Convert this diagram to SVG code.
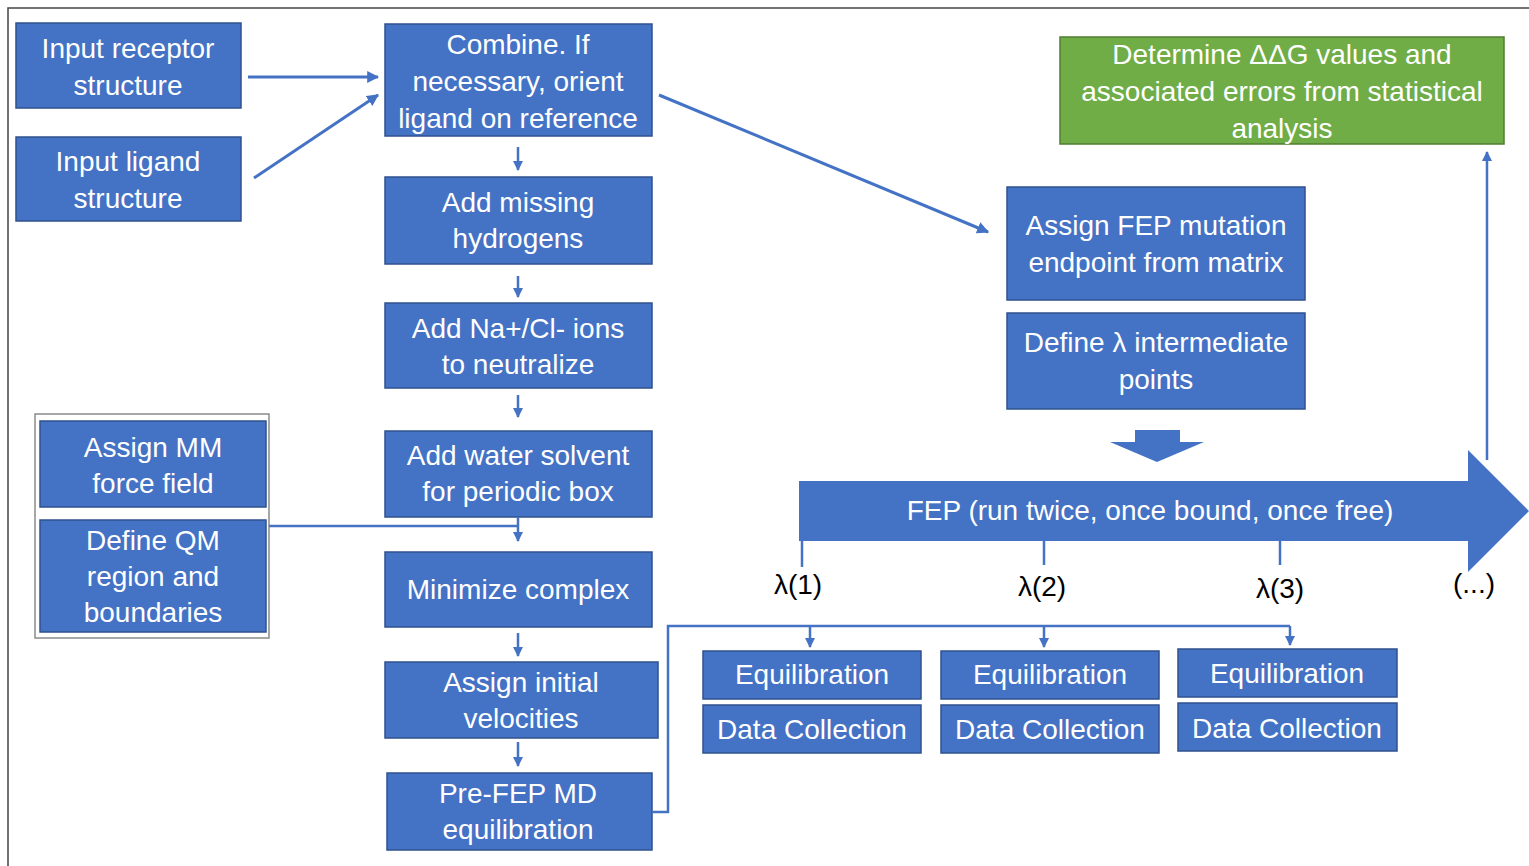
<svg xmlns="http://www.w3.org/2000/svg" width="1529" height="866" viewBox="0 0 1529 866">
<style>
.b{fill:#4472C4;stroke:#2F528F;stroke-width:1.5}
.g{fill:#70AD47;stroke:#507E32;stroke-width:1.5}
.t{font-family:"Liberation Sans",Arial,sans-serif;font-size:28px;fill:#fff;text-anchor:middle}
.k{font-family:"Liberation Sans",Arial,sans-serif;font-size:28px;fill:#000;text-anchor:middle}
.c{fill:none;stroke:#4472C4;stroke-width:3}
.cs{fill:none;stroke:#4472C4;stroke-width:2.5}
</style>
<defs>
<marker id="ah" viewBox="0 0 10 10" refX="9" refY="5" markerWidth="4" markerHeight="4" orient="auto" markerUnits="strokeWidth"><path d="M0,0 L10,5 L0,10 z" fill="#4472C4"/></marker>
</defs>
<rect width="1529" height="866" fill="#fff"/>
<rect x="8" y="8" width="1540" height="880" fill="none" stroke="#444" stroke-width="1.5"/>

<g id="n-receptor"><rect class="b" x="16" y="23" width="225" height="85"/><text class="t" x="128" y="58">Input receptor</text><text class="t" x="128" y="95">structure</text></g>
<g id="n-ligand"><rect class="b" x="16" y="137" width="225" height="84"/><text class="t" x="128" y="171">Input ligand</text><text class="t" x="128" y="208">structure</text></g>
<g id="n-combine"><rect class="b" x="385" y="24" width="267" height="112"/><text class="t" x="518" y="54">Combine. If</text><text class="t" x="518" y="91">necessary, orient</text><text class="t" x="518" y="128">ligand on reference</text></g>
<g id="n-hydrogens"><rect class="b" x="385" y="177" width="267" height="87"/><text class="t" x="518" y="212">Add missing</text><text class="t" x="518" y="248">hydrogens</text></g>
<g id="n-ions"><rect class="b" x="385" y="303" width="267" height="85"/><text class="t" x="518" y="338">Add Na+/Cl- ions</text><text class="t" x="518" y="374">to neutralize</text></g>
<g id="n-water"><rect class="b" x="385" y="431" width="267" height="86"/><text class="t" x="518" y="465">Add water solvent</text><text class="t" x="518" y="501">for periodic box</text></g>
<g id="n-minimize"><rect class="b" x="385" y="552" width="267" height="75"/><text class="t" x="518" y="599">Minimize complex</text></g>
<g id="n-velocities"><rect class="b" x="385" y="662" width="273" height="76"/><text class="t" x="521" y="692">Assign initial</text><text class="t" x="521" y="728">velocities</text></g>
<g id="n-prefep"><rect class="b" x="387" y="773" width="265" height="77"/><text class="t" x="518" y="803">Pre-FEP MD</text><text class="t" x="518" y="839">equilibration</text></g>

<g id="n-group"><rect x="35" y="414" width="234" height="224" fill="#fff" stroke="#8a8a8a" stroke-width="1.5"/>
<g id="n-mm"><rect class="b" x="40" y="421" width="226" height="86"/><text class="t" x="153" y="457">Assign MM</text><text class="t" x="153" y="493">force field</text></g>
<g id="n-qm"><rect class="b" x="40" y="520" width="226" height="112"/><text class="t" x="153" y="550">Define QM</text><text class="t" x="153" y="586">region and</text><text class="t" x="153" y="622">boundaries</text></g>
</g>

<g id="n-ddg"><rect class="g" x="1060" y="37" width="444" height="107"/><text class="t" x="1282" y="64">Determine ΔΔG values and</text><text class="t" x="1282" y="101">associated errors from statistical</text><text class="t" x="1282" y="138">analysis</text></g>
<g id="n-assignfep"><rect class="b" x="1007" y="187" width="298" height="113"/><text class="t" x="1156" y="235">Assign FEP mutation</text><text class="t" x="1156" y="272">endpoint from matrix</text></g>
<g id="n-lambda"><rect class="b" x="1007" y="313" width="298" height="96"/><text class="t" x="1156" y="352">Define λ intermediate</text><text class="t" x="1156" y="389">points</text></g>

<g id="n-downarrow"><path d="M1135,430 H1180 V442 H1204 L1157,462 L1110,442 H1135 Z" fill="#4472C4"/></g>
<g id="n-fep"><path d="M799,481 H1468 V450 L1529,511 L1468,572 V541 H799 Z" fill="#4472C4"/><text class="t" x="1150" y="520">FEP (run twice, once bound, once free)</text></g>

<g id="n-l1"><text class="k" x="798" y="594">λ(1)</text></g>
<g id="n-l2"><text class="k" x="1042" y="596">λ(2)</text></g>
<g id="n-l3"><text class="k" x="1280" y="598">λ(3)</text></g>
<g id="n-etc"><text class="k" x="1474" y="593">(...)</text></g>

<g id="n-eq1"><rect class="b" x="703" y="651" width="218" height="48"/><text class="t" x="812" y="684">Equilibration</text></g>
<g id="n-dc1"><rect class="b" x="703" y="705" width="218" height="48"/><text class="t" x="812" y="739">Data Collection</text></g>
<g id="n-eq2"><rect class="b" x="941" y="651" width="218" height="48"/><text class="t" x="1050" y="684">Equilibration</text></g>
<g id="n-dc2"><rect class="b" x="941" y="705" width="218" height="48"/><text class="t" x="1050" y="739">Data Collection</text></g>
<g id="n-eq3"><rect class="b" x="1178" y="649" width="219" height="48"/><text class="t" x="1287" y="683">Equilibration</text></g>
<g id="n-dc3"><rect class="b" x="1178" y="703" width="219" height="48"/><text class="t" x="1287" y="738">Data Collection</text></g>

<g id="connectors">
<line class="c" x1="248" y1="77" x2="378" y2="77" marker-end="url(#ah)"/>
<line class="c" x1="254" y1="178" x2="378" y2="95" marker-end="url(#ah)"/>
<line class="c" x1="659" y1="95" x2="988" y2="232" marker-end="url(#ah)"/>
<line class="cs" x1="518" y1="147" x2="518" y2="170" marker-end="url(#ah)"/>
<line class="cs" x1="518" y1="276" x2="518" y2="297" marker-end="url(#ah)"/>
<line class="cs" x1="518" y1="395" x2="518" y2="417" marker-end="url(#ah)"/>
<line class="cs" x1="518" y1="517" x2="518" y2="541" marker-end="url(#ah)"/>
<line class="cs" x1="269" y1="526" x2="518" y2="526"/>
<line class="cs" x1="518" y1="633" x2="518" y2="656" marker-end="url(#ah)"/>
<line class="cs" x1="518" y1="742" x2="518" y2="766" marker-end="url(#ah)"/>
<polyline class="cs" points="652,812 668,812 668,626 1290,626"/>
<line class="cs" x1="810" y1="626" x2="810" y2="647" marker-end="url(#ah)"/>
<line class="cs" x1="1044" y1="626" x2="1044" y2="647" marker-end="url(#ah)"/>
<line class="cs" x1="1290" y1="626" x2="1290" y2="645" marker-end="url(#ah)"/>
<line class="cs" x1="802" y1="541" x2="802" y2="567"/>
<line class="cs" x1="1044" y1="541" x2="1044" y2="565"/>
<line class="cs" x1="1280" y1="541" x2="1280" y2="565"/>
<line class="cs" x1="1487" y1="460" x2="1487" y2="152" marker-end="url(#ah)"/>
</g>
</svg>
